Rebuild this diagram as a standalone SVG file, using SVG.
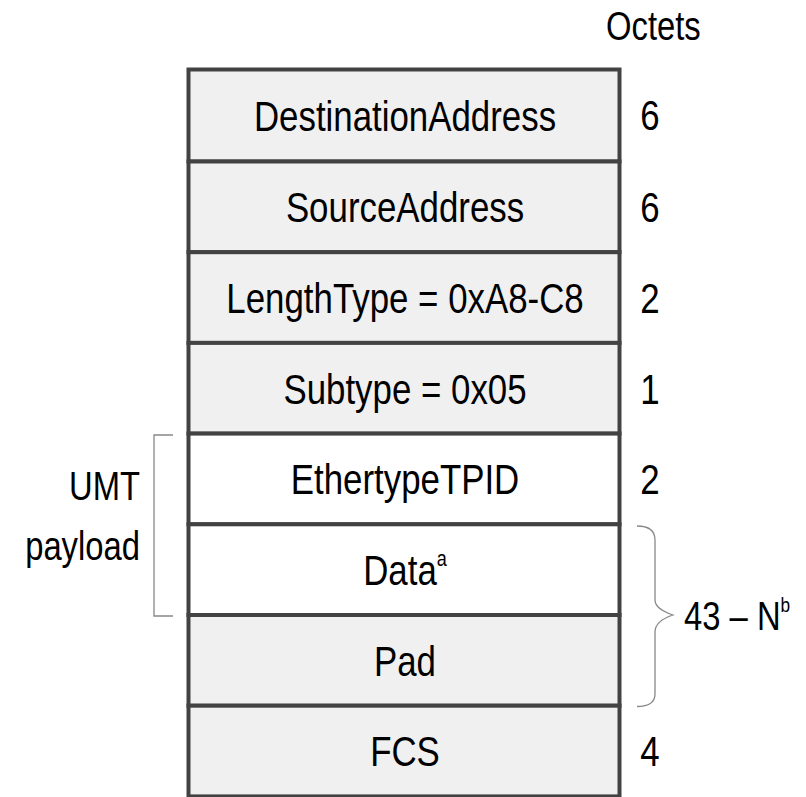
<svg xmlns="http://www.w3.org/2000/svg" width="806" height="797" viewBox="0 0 806 797">
<style>
.cell{stroke:#424242;stroke-width:4}
.g{fill:#f0f0f0}
.w{fill:#ffffff}
text{font-family:"Liberation Sans",Arial,sans-serif;font-size:42.5px;fill:#000}
.c{text-anchor:middle}
.s{font-size:40px}
.br{fill:none;stroke:#888;stroke-width:1.3}
</style>
<rect width="806" height="797" fill="#fff"/>
<g id="destination"><rect class="cell g" x="188.5" y="69.5" width="431" height="92"/><text class="c" transform="translate(405 130.7) scale(0.82 1)">DestinationAddress</text><text class="c" transform="translate(650 130) scale(0.82 1)">6</text></g>
<g id="source"><rect class="cell g" x="188.5" y="161.5" width="431" height="90.7"/><text class="c" transform="translate(405 222) scale(0.82 1)">SourceAddress</text><text class="c" transform="translate(650 222) scale(0.82 1)">6</text></g>
<g id="lengthtype"><rect class="cell g" x="188.5" y="252.2" width="431" height="90.7"/><text class="c" transform="translate(405 312.7) scale(0.82 1)">LengthType = 0xA8-C8</text><text class="c" transform="translate(650 312.7) scale(0.82 1)">2</text></g>
<g id="subtype"><rect class="cell g" x="188.5" y="342.9" width="431" height="90.7"/><text class="c" transform="translate(405 403.5) scale(0.82 1)">Subtype = 0x05</text><text class="c" transform="translate(650 403.5) scale(0.82 1)">1</text></g>
<g id="ethertype"><rect class="cell w" x="188.5" y="433.6" width="431" height="90.7"/><text class="c" transform="translate(405 494) scale(0.82 1)">EthertypeTPID</text><text class="c" transform="translate(650 494) scale(0.82 1)">2</text></g>
<g id="data"><rect class="cell w" x="188.5" y="524.3" width="431" height="90.7"/><text class="c" transform="translate(405 585) scale(0.82 1)">Data<tspan font-size="22" dy="-19">a</tspan></text></g>
<g id="pad"><rect class="cell g" x="188.5" y="615" width="431" height="90.7"/><text class="c" transform="translate(405 675.5) scale(0.82 1)">Pad</text></g>
<g id="fcs"><rect class="cell g" x="188.5" y="705.7" width="431" height="90.7"/><text class="c" transform="translate(405 766) scale(0.82 1)">FCS</text><text class="c" transform="translate(650 766) scale(0.82 1)">4</text></g>
<g id="octets"><text class="s" transform="translate(606 39.5) scale(0.82 1)">Octets</text></g>
<g id="umt"><text class="s" text-anchor="end" transform="translate(140 500) scale(0.82 1)">UMT</text><text class="s" text-anchor="end" transform="translate(140 560) scale(0.82 1)">payload</text></g>
<g id="size43"><text class="s" transform="translate(684 630) scale(0.82 1)">43 – N<tspan font-size="21" dy="-18">b</tspan></text></g>
<g id="connectors">
<path class="br" d="M173,435 H154 V616 H173"/>
<path class="br" d="M637,526 Q655,526 655,540 V600 Q655,609 673,615 Q655,621 655,632 V694 Q655,706.5 637,706.5"/>
</g>
</svg>
